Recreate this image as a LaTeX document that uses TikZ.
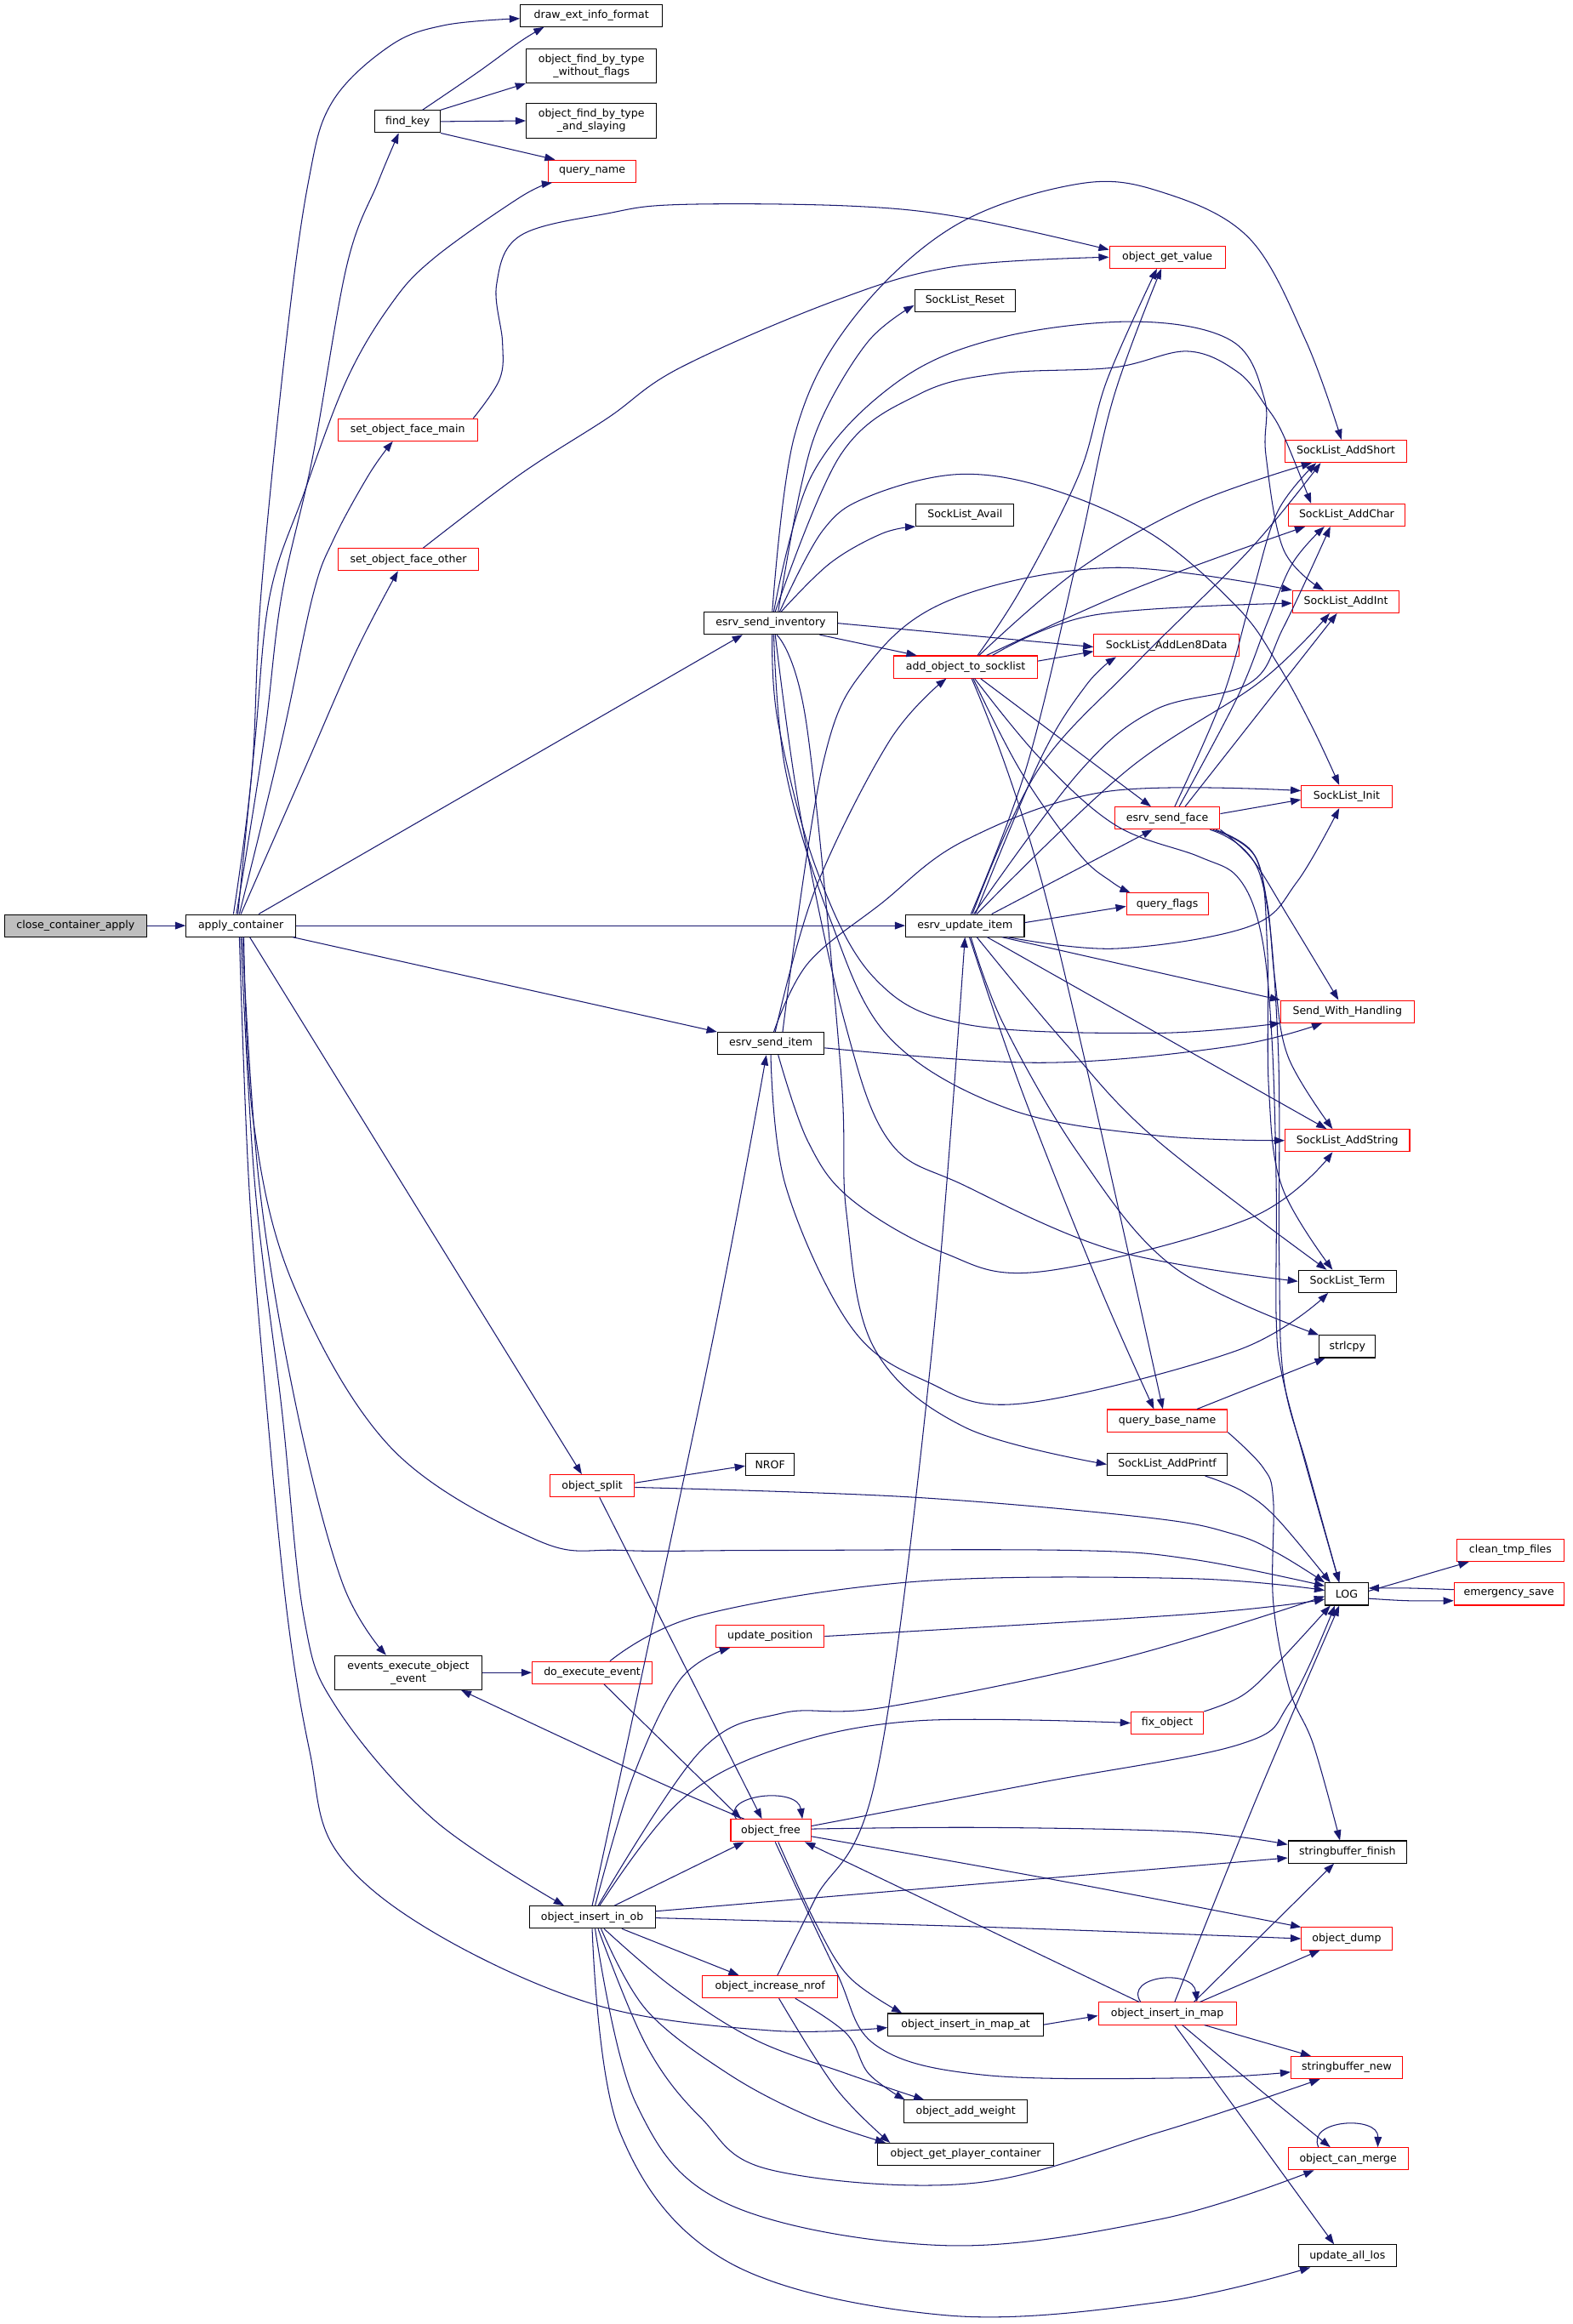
\documentclass[tikz,border=0pt]{standalone}
\usepackage{fontspec}
\setmainfont{DejaVu Sans}
\usetikzlibrary{arrows.meta}
\definecolor{edgec}{RGB}{25,25,112}
\definecolor{nred}{RGB}{255,0,0}
\definecolor{ngray}{RGB}{191,191,191}
\tikzset{
  nd/.style={draw=black, line width=0.6pt, rectangle, inner sep=0pt, minimum height=15pt,
    font=\fontsize{7.2}{8.6}\selectfont, align=center},
  rd/.style={nd, draw=nred},
  e/.style={draw=edgec, line width=0.6pt, -{Triangle[length=7pt,width=5pt]}},
  sm/.style={smooth, tension=0.6},
}
\begin{document}
\begin{tikzpicture}[x=1pt,y=-1pt]
\useasboundingbox (0,0) rectangle (1061,1568);
\fill[white] (0,0) rectangle (1061,1568);
% ---------- nodes ----------
\node[nd, fill=ngray, minimum width=96pt] (cca) at (51,624.5) {close\_container\_apply};
\node[nd, minimum width=74pt] (ac) at (162.5,624.5) {apply\_container};
\node[nd, minimum width=96pt] (dei) at (399,10.5) {draw\_ext\_info\_format};
\node[nd, minimum width=88pt, minimum height=23pt] (ofwf) at (399,44.5) {object\_find\_by\_type\\\_without\_flags};
\node[nd, minimum width=88pt, minimum height=23pt] (ofas) at (399,81.5) {object\_find\_by\_type\\\_and\_slaying};
\node[nd, minimum width=44pt] (fk) at (275,82) {find\_key};
\node[rd, minimum width=59pt] (qn) at (399.5,115.5) {query\_name};
\node[rd, minimum width=78pt] (ogv) at (787.5,173.5) {object\_get\_value};
\node[nd, minimum width=68pt] (slr) at (651,203) {SockList\_Reset};
\node[rd, minimum width=94pt] (sofm) at (275,290) {set\_object\_face\_main};
\node[rd, minimum width=82pt] (sls) at (908,304.5) {SockList\_AddShort};
\node[nd, minimum width=66pt] (sla) at (651,347.5) {SockList\_Avail};
\node[rd, minimum width=79pt] (slc) at (908.5,347.5) {SockList\_AddChar};
\node[rd, minimum width=95pt] (sofo) at (275.5,377.5) {set\_object\_face\_other};
\node[nd, minimum width=90pt] (esi) at (520,420.5) {esrv\_send\_inventory};
\node[rd, minimum width=72pt] (sli) at (908,406) {SockList\_AddInt};
\node[rd, minimum width=97pt] (aots) at (651.5,450) {add\_object\_to\_socklist};
\node[rd, minimum width=98pt] (sl8) at (787,435.5) {SockList\_AddLen8Data};
\node[rd, minimum width=61pt] (slin) at (908.5,537.5) {SockList\_Init};
\node[rd, minimum width=71pt] (esf) at (787.5,552) {esrv\_send\_face};
\node[rd, minimum width=55pt] (qf) at (787.5,610) {query\_flags};
\node[nd, minimum width=80pt] (eui) at (651,624.5) {esrv\_update\_item};
\node[rd, minimum width=90pt] (swh) at (909,682.5) {Send\_With\_Handling};
\node[nd, minimum width=72pt] (esit) at (520,704) {esrv\_send\_item};
\node[rd, minimum width=84pt] (slas) at (909,769.5) {SockList\_AddString};
\node[nd, minimum width=66pt] (slt) at (909,864.5) {SockList\_Term};
\node[nd, minimum width=38pt] (strl) at (909,908.5) {strlcpy};
\node[rd, minimum width=81pt] (qbn) at (787.5,958.5) {query\_base\_name};
\node[nd, minimum width=33pt] (nrof) at (519.5,988) {NROF};
\node[rd, minimum width=57pt] (osp) at (399.5,1002.5) {object\_split};
\node[nd, minimum width=81pt] (slap) at (787.5,988) {SockList\_AddPrintf};
\node[nd, minimum width=29pt] (log) at (908.5,1075.5) {LOG};
\node[rd, minimum width=72pt] (ctf) at (1019,1046) {clean\_tmp\_files};
\node[rd, minimum width=74pt] (es) at (1018,1075.5) {emergency\_save};
\node[rd, minimum width=73pt] (up) at (519.5,1104) {update\_position};
\node[nd, minimum width=99pt, minimum height=23pt] (eeoe) at (275.5,1128.5) {events\_execute\_object\\\_event};
\node[rd, minimum width=81pt] (dee) at (399.5,1128.5) {do\_execute\_event};
\node[rd, minimum width=49pt] (fo) at (787.5,1162.5) {fix\_object};
\node[rd, minimum width=54pt] (of) at (520,1235) {object\_free};
\node[nd, minimum width=80pt] (sbf) at (909,1249.5) {stringbuffer\_finish};
\node[nd, minimum width=85pt] (oiio) at (399.5,1293.5) {object\_insert\_in\_ob};
\node[rd, minimum width=61pt] (od) at (908.5,1308) {object\_dump};
\node[rd, minimum width=91pt] (oin) at (519.5,1340.5) {object\_increase\_nrof};
\node[rd, minimum width=93pt] (oim) at (787.5,1358.5) {object\_insert\_in\_map};
\node[nd, minimum width=105pt] (oimat) at (651.5,1366) {object\_insert\_in\_map\_at};
\node[rd, minimum width=75pt] (sbn) at (908.5,1395) {stringbuffer\_new};
\node[nd, minimum width=83pt] (oaw) at (651.5,1424.5) {object\_add\_weight};
\node[nd, minimum width=119pt] (ogpc) at (651.5,1453.5) {object\_get\_player\_container};
\node[rd, minimum width=81pt] (ocm) at (909.5,1456.5) {object\_can\_merge};
\node[nd, minimum width=66pt] (ual) at (909,1522) {update\_all\_los};
% ---------- edges ----------
\draw[e] (cca.east) -- (ac.west);
% apply_container
\draw[e] plot[sm] coordinates {([xshift=-5pt]ac.north) (170,520) (176,402) (193,231) (208,123) (224,69) (263,31) (300,17) ([yshift=-2pt]dei.west)};
\draw[e] plot[sm] coordinates {([xshift=-3pt]ac.north) (178,500) (190,402) (211,308) (234,179) (255,123) ([xshift=-6pt]fk.south)};
\draw[e] plot[sm] coordinates {([xshift=-2pt]ac.north) (172,500) (182,402) (205,333) (234,256) (264,205) (293,174) (351,133) ([xshift=-27pt]qn.south)};
\draw[e] plot[sm] coordinates {([xshift=-1pt]ac.north) (190,500) (211,402) (225,364) (249,320) ([xshift=-10pt]sofm.south)};
\draw[e] plot[sm] coordinates {(ac.north) (205,520) (240,440) ([xshift=-7pt]sofo.south)};
\draw[e] ([xshift=12pt]ac.north) -- ([xshift=-19pt]esi.south);
\draw[e] (ac.east) -- (eui.west);
\draw[e] ([xshift=35pt]ac.south) -- (esit.north west);
\draw[e] ([xshift=6pt]ac.south) -- ([xshift=-7pt]osp.north);
\draw[e] plot[sm] coordinates {([xshift=2pt]ac.south) (171,757) (198,867) (264,977) (362,1039) (420,1046) (517,1046) (723,1046) (804,1052) ([yshift=5.5pt]log.west)};
\draw[e] plot[sm] coordinates {([xshift=1pt]ac.south) (175,800) (200,950) (231,1068) ([xshift=-15pt]eeoe.north)};
\draw[e] plot[sm] coordinates {(ac.south) (172,800) (190,950) (205,1091) (227,1152) (293,1228) ([xshift=-19pt]oiio.north)};
\draw[e] plot[sm] coordinates {([xshift=-1pt]ac.south) (168,800) (180,950) (194,1091) (209,1182) (227,1249) (293,1304) (403,1353) (520,1370) ([yshift=-2pt]oimat.west)};
% find_key
\draw[e] plot[sm] coordinates {([xshift=10pt]fk.north) (322,49) (351,28) ([xshift=-32pt]dei.south)};
\draw[e] (fk.north east) -- (ofwf.south west);
\draw[e] (fk.east) -- (ofas.west);
\draw[e] (fk.south east) -- ([xshift=-25pt]qn.north);
% set_object_face_*
\draw[e] plot[sm] coordinates {([xshift=-3pt]sofm.north east) (337,256) (339,231) (335,192) (351,159) (410,144) (459,138) (574,139) (651,147) ([yshift=5pt]ogv.west)};
\draw[e] plot[sm] coordinates {([xshift=10pt]sofo.north) (351,320) (410,282) (459,248) (563,203) (643,180) (ogv.west)};
% esrv_send_inventory
\draw[e] plot[sm] coordinates {([xshift=5pt]esi.north) (540,330) (555,281) (586,230) ([yshift=-3pt]slr.west)};
\draw[e] plot[sm] coordinates {([xshift=1pt]esi.north) (536,294) (574,217) (643,153) (728,124) (785,130) (843,161) (881,230) ([xshift=-3pt]sls.north)};
\draw[e] plot[sm] coordinates {([xshift=2pt]esi.north) (548,320) (605,258) (674,228) (766,217) (831,230) (853,269) (854,307) (866,371) ([xshift=-15pt]sli.north)};
\draw[e] plot[sm] coordinates {([xshift=3pt]esi.north) (567,307) (620,266) (674,252) (751,248) (801,237) (835,251) (854,274) (866,294) ([xshift=-24pt]slc.north)};
\draw[e] plot[sm] coordinates {([xshift=7pt]esi.north) (560,380) (595,360) (sla.south west)};
\draw[e] plot[sm] coordinates {([xshift=6pt]esi.north) (555,358) (586,335) (647,320) (709,330) (778,361) (835,410) (862,448) (885,490) ([xshift=-5pt]slin.north)};
\draw[e] (esi.east) -- ([yshift=-1pt]sl8.west);
\draw[e] ([xshift=33pt]esi.south) -- ([xshift=-33pt]aots.north);
\draw[e] plot[sm] coordinates {([xshift=1pt]esi.south) (525,488) (551,587) (590,660) (651,691) (779,697) (swh.south west)};
\draw[e] plot[sm] coordinates {([xshift=2pt]esi.south) (530,520) (560,620) (600,700) (680,748) (779,766) (slas.west)};
\draw[e] plot[sm] coordinates {([xshift=3pt]esi.south) (540,550) (570,690) (600,770) (651,800) (753,844) (slt.west)};
\draw[e] plot[sm] coordinates {([xshift=4pt]esi.south) (544,488) (567,719) (571,818) (590,910) (651,963) (slap.west)};
% add_object_to_socklist
\draw[e] plot[sm] coordinates {([xshift=8pt]aots.north) (689,397) (728,320) (747,256) ([xshift=-7pt]ogv.south)};
\draw[e] plot[sm] coordinates {([xshift=9pt]aots.north) (728,384) (805,340) ([xshift=-23pt]sls.south)};
\draw[e] plot[sm] coordinates {([xshift=14pt]aots.north) (766,397) ([xshift=-28pt]slc.south)};
\draw[e] plot[sm] coordinates {([xshift=18pt]aots.north) (738,415) ([yshift=-1pt]sli.west)};
\draw[e] ([yshift=4pt]aots.east) -- ([yshift=-4pt]sl8.west);
\draw[e] ([xshift=10pt]aots.south) -- ([xshift=-11pt]esf.north);
\draw[e] plot[sm] coordinates {([xshift=5pt]aots.south) (689,521) (728,576) (750,595) ([xshift=-25pt]qf.north)};
\draw[e] plot[sm] coordinates {([xshift=4pt]aots.south) (705,603) ([xshift=-3pt]qbn.north)};
\draw[e] plot[sm] coordinates {([xshift=6pt]aots.south) (702,512) (753,557) (809,578) (836,593) (851,631) (858,700) (861,800) (861,890) (865,928) (880,985) ([xshift=-5pt]log.north)};
% esrv_send_face
\draw[e] ([yshift=3pt]esf.east) -- ([yshift=-2pt]slin.west);
\draw[e] plot[sm] coordinates {([xshift=5pt]esf.north) (825,470) (845,400) (862,345) ([xshift=-20pt]sls.south)};
\draw[e] plot[sm] coordinates {([xshift=8pt]esf.north) (835,470) (855,420) (872,380) ([xshift=-15pt]slc.south)};
\draw[e] ([xshift=12pt]esf.north) -- ([xshift=-6pt]sli.south);
\draw[e] plot[sm] coordinates {(esf.south east) (845,580) (870,620) ([xshift=-6pt]swh.north)};
\draw[e] plot[sm] coordinates {([xshift=-3pt]esf.south east) (845,575) (855,610) (860,660) (869,713) ([xshift=-10pt]slas.north)};
\draw[e] plot[sm] coordinates {([xshift=-5pt]esf.south east) (848,580) (855,640) (856,735) (865,801) ([xshift=-10pt]slt.north)};
\draw[e] plot[sm] coordinates {([xshift=-7pt]esf.south east) (850,590) (862,700) (863,850) (866,930) (882,990) ([xshift=-5pt]log.north)};
% esrv_update_item
\draw[e] plot[sm] coordinates {([xshift=4pt]eui.north) (693,516) (728,371) (751,269) ([xshift=-4pt]ogv.south)};
\draw[e] plot[sm] coordinates {([xshift=7pt]eui.north) (702,512) (733,462) ([xshift=-34pt]sl8.south)};
\draw[e] plot[sm] coordinates {([xshift=5pt]eui.north) (700,520) (766,448) (843,371) ([xshift=-17pt]sls.south)};
\draw[e] plot[sm] coordinates {([xshift=6pt]eui.north) (728,521) (779,479) (843,461) (866,423) ([xshift=-11pt]slc.south)};
\draw[e] plot[sm] coordinates {([xshift=8pt]eui.north) (760,520) (850,460) ([xshift=-11pt]sli.south)};
\draw[e] ([xshift=18pt]eui.north) -- ([xshift=-10pt]esf.south);
\draw[e] ([yshift=2pt]eui.east) -- ([yshift=-1.5pt]qf.west);
\draw[e] plot[sm] coordinates {([xshift=29pt]eui.south) (753,640) (843,625) (875,595) ([xshift=-5pt]slin.south)};
\draw[e] ([xshift=25pt]eui.south) -- (swh.north west);
\draw[e] ([xshift=15pt]eui.south) -- ([xshift=-14pt]slas.north);
\draw[e] plot[sm] coordinates {([xshift=8pt]eui.south) (717,702) (779,768) ([xshift=-14pt]slt.north)};
\draw[e] plot[sm] coordinates {([xshift=4pt]eui.south) (677,691) (728,779) (792,855) (strl.north west)};
\draw[e] plot[sm] coordinates {([xshift=3pt]eui.south) (689,735) (741,866) ([xshift=-9pt]qbn.north)};
% esrv_send_item
\draw[e] plot[sm] coordinates {([xshift=3pt]esit.north) (550,600) (600,500) ([xshift=-13pt]aots.south)};
\draw[e] plot[sm] coordinates {([xshift=8pt]esit.north) (555,516) (586,448) (643,404) (751,383) (sli.north west)};
\draw[e] plot[sm] coordinates {([xshift=2pt]esit.north) (545,650) (594,610) (651,567) (747,534) ([yshift=4pt]slin.west)};
\draw[e] plot[sm] coordinates {([yshift=-3pt]esit.east) (702,717) (830,706) ([xshift=-17pt]swh.south)};
\draw[e] plot[sm] coordinates {([xshift=5pt]esit.south) (545,770) (574,809) (636,845) (702,858) (843,822) ([xshift=-10pt]slas.south)};
\draw[e] plot[sm] coordinates {(esit.south) (530,800) (574,895) (625,932) (689,947) (835,911) ([xshift=-13pt]slt.south)};
% object_split
\draw[e] ([yshift=2pt]osp.east) -- ([yshift=-1pt]nrof.west);
\draw[e] plot[sm] coordinates {([yshift=-1pt]osp.east) (613,1010) (775,1024) (832,1035) (862,1048) (log.north west)};
\draw[e] ([xshift=5pt]osp.south) -- ([xshift=-6pt]of.north);
% AddPrintf, query_base_name, LOG
\draw[e] plot[sm] coordinates {([xshift=25.5pt]slap.south) (838,1006) (861,1024) ([xshift=-11pt]log.north)};
\draw[e] ([xshift=20pt]qbn.north) -- ([xshift=-15pt]strl.south);
\draw[e] plot[sm] coordinates {(qbn.south east) (852,990) (859,1012) (859,1081) (870,1140) (886,1177) ([xshift=-5pt]sbf.north)};
\draw[e] ([yshift=2pt]log.east) -- ([xshift=-28pt]ctf.south);
\draw[e] plot[sm] coordinates {([yshift=3pt]es.west) (950,1071.5) ([yshift=4pt]log.east)};
\draw[e] plot[sm] coordinates {([yshift=-3pt]log.east) (950,1080) ([yshift=-4.5pt]es.west)};
% events / do_execute_event
\draw[e] (eeoe.east) -- (dee.west);
\draw[e] plot[sm] coordinates {([xshift=12pt]dee.north) (472,1090) (619,1067) (801,1065) ([yshift=2.5pt]log.west)};
\draw[e] ([xshift=8pt]dee.south) -- ([xshift=-20pt]of.north);
\draw[e] plot[sm] coordinates {(up.east) (804,1089) ([yshift=-3.5pt]log.west)};
\draw[e] plot[sm] coordinates {(fo.north east) (838,1144) (861,1123) ([xshift=-11pt]log.south)};
% object_free
\draw[e] plot[sm] coordinates {([yshift=3pt]of.east) (700,1203) (836,1177) (870,1149) ([xshift=-8pt]log.south)};
\draw[e] plot[sm] coordinates {([yshift=1pt]of.east) (664,1233) (801,1236) ([yshift=5pt]sbf.west)};
\draw[e] plot[sm] coordinates {([yshift=-4pt]of.east) (710,1268) (od.north west)};
\draw[e] plot[sm] coordinates {([xshift=5pt]of.south) (550,1297) (573,1334) ([xshift=-43pt]oimat.north)};
\draw[e] plot[sm] coordinates {([xshift=3pt]of.south) (564,1330) (591,1380) (664,1400) (801,1402) ([yshift=-3pt]sbn.west)};
\draw[e] ([xshift=4pt]of.north west) .. controls (486,1211) and (538,1205) .. ([xshift=-6pt]of.north east);
\draw[e] plot[sm] coordinates {([xshift=-18pt]of.north) (439,1200) ([xshift=35.5pt]eeoe.south)};
% object_insert_in_ob
\draw[e] plot[sm] coordinates {(oiio.north) (478,918) ([xshift=-3pt]esit.south)};
\draw[e] plot[sm] coordinates {([xshift=2pt]oiio.north) (427,1199) (459,1133) ([xshift=-27pt]up.south)};
\draw[e] plot[sm] coordinates {([xshift=4pt]oiio.north) (472,1182) (527,1156) (596,1152) (756,1119) ([yshift=-1.5pt]log.west)};
\draw[e] plot[sm] coordinates {([xshift=5pt]oiio.north) (459,1215) (527,1179) (619,1161) (fo.west)};
\draw[e] ([xshift=15pt]oiio.north) -- ([xshift=-18pt]of.south);
\draw[e] ([yshift=4pt]oiio.east) -- ([yshift=-4pt]sbf.west);
\draw[e] plot[sm] coordinates {([yshift=-0.5pt]oiio.east) (660,1300) (od.west)};
\draw[e] ([xshift=20pt]oiio.south) -- ([xshift=-21pt]oin.north);
\draw[e] plot[sm] coordinates {([xshift=8pt]oiio.south) (454,1341) (509,1376) (571,1399) ([xshift=-28pt]oaw.north)};
\draw[e] plot[sm] coordinates {([xshift=6pt]oiio.south) (436,1356) (491,1399) (546,1428) ([xshift=-54pt]ogpc.north)};
\draw[e] plot[sm] coordinates {([xshift=4pt]oiio.south) (436,1380) (473,1429) (520,1464) (656,1473) (784,1438) ([xshift=-18pt]sbn.south)};
\draw[e] plot[sm] coordinates {([xshift=2pt]oiio.south) (429,1419) (491,1487) (637,1515) (784,1497) ([xshift=-23pt]ocm.south)};
\draw[e] plot[sm] coordinates {(oiio.south) (418,1438) (491,1526) (637,1562) (784,1553) ([xshift=-25pt]ual.south)};
% object_increase_nrof
\draw[e] plot[sm] coordinates {([xshift=5pt]oin.north) (550,1281) (591,1199) (628,918) (eui.south)};
\draw[e] plot[sm] coordinates {([xshift=17pt]oin.south) (571,1372) (586,1399) ([xshift=-41pt]oaw.north)};
\draw[e] plot[sm] coordinates {([xshift=6pt]oin.south) (564,1409) ([xshift=-51pt]ogpc.north)};
% object_insert_in_map(_at)
\draw[e] (oimat.east) -- ([yshift=-1.5pt]oim.west);
\draw[e] ([xshift=-18pt]oim.north) .. controls (758,1333) and (805,1328) .. ([xshift=20pt]oim.north);
\draw[e] ([xshift=-19pt]oim.north) -- ([xshift=23pt]of.south);
\draw[e] plot[sm] coordinates {([xshift=5pt]oim.north) (847,1215) ([xshift=-5pt]log.south)};
\draw[e] ([xshift=18pt]oim.north) -- ([xshift=-9pt]sbf.south);
\draw[e] ([xshift=22pt]oim.north) -- ([xshift=-18pt]od.south);
\draw[e] ([xshift=25pt]oim.south) -- ([xshift=-24pt]sbn.north);
\draw[e] plot[sm] coordinates {([xshift=10pt]oim.south) (850,1410) ([xshift=-12pt]ocm.north)};
\draw[e] ([xshift=5pt]oim.south) -- ([xshift=-9pt]ual.north);
\draw[e] ([xshift=-20pt]ocm.north) .. controls (881,1430) and (930,1427) .. ([xshift=20pt]ocm.north);
\end{tikzpicture}
\end{document}
